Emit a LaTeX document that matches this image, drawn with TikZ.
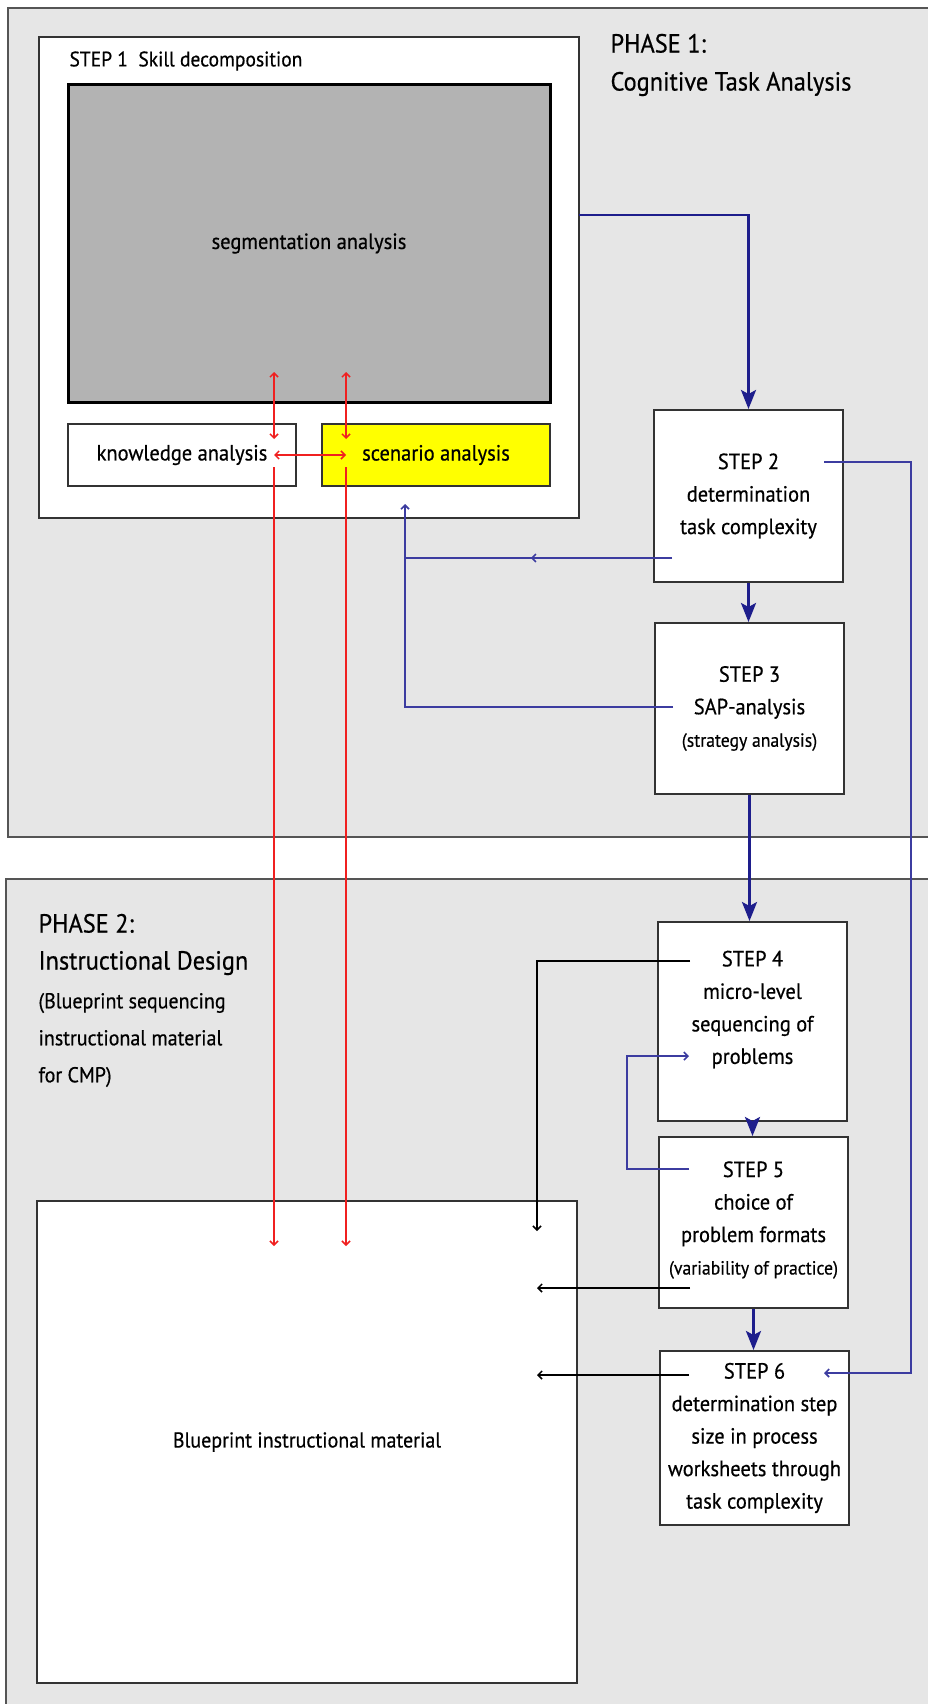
\documentclass[tikz,border=0pt]{standalone}
\usepackage{fontspec}
\setmainfont[FakeStretch=0.93,FakeBold=0.5]{PT Sans}
\usetikzlibrary{arrows.meta,decorations.markings}
\definecolor{panelgray}{HTML}{E6E6E6}
\definecolor{panelline}{HTML}{555555}
\definecolor{boxline}{HTML}{333333}
\definecolor{seggray}{HTML}{B3B3B3}
\definecolor{navy}{HTML}{1E1E8C}
\definecolor{thinblue}{HTML}{3C3CA0}
\definecolor{redline}{HTML}{F02020}
\definecolor{yellowfill}{HTML}{FFFF00}
\tikzset{
  panel/.style={draw=panelline, line width=2pt, fill=panelgray},
  box/.style={draw=boxline, line width=2pt, fill=white, inner sep=0pt},
  stepbox/.style={box, minimum width=189pt},
  steptext/.style={align=center, font=\fontsize{22}{32.5}\selectfont},
  barb/.tip={Straight Barb[length=4pt,width=8pt]},
  thickarrow/.style={draw=navy, line width=2.7pt, -{Stealth[length=19pt,width=15pt,inset=4pt]}},
  thinblueline/.style={draw=thinblue, line width=1.6pt},
  blackline/.style={draw=black, line width=1.5pt},
  redarrow/.style={draw=redline, line width=1.5pt},
}
\begin{document}
\begin{tikzpicture}[x=1pt,y=-1pt]
\useasboundingbox (0,0) rectangle (928,1704);
\clip (0,0) rectangle (928,1704);
\fill[white] (0,0) rectangle (928,1704);
% panels
\draw[panel] (8,8) rectangle (960,837);
\draw[panel] (6,879) rectangle (960,1730);
% phase texts
\node[anchor=west, align=left, font=\fontsize{26.2}{38}\selectfont] (ph1) at (607,65) {PHASE 1:\\Cognitive Task Analysis};
\node[anchor=west, align=left, font=\fontsize{26.2}{37}\selectfont] (ph2a) at (35,944.5) {PHASE 2:\\Instructional Design};
\node[anchor=west, align=left, font=\fontsize{21.5}{37}\selectfont] (ph2b) at (35,1040) {(Blueprint sequencing\\instructional material\\for CMP)};
% step 1
\node[box, minimum width=540.5pt, minimum height=480.5pt] (step1) at (308.75,277.75) {};
\node[anchor=west, font=\fontsize{21}{26}\selectfont] (step1t) at (66,61) {STEP 1\ \ Skill decomposition};
\node[box, draw=black, line width=3pt, fill=seggray, minimum width=482pt, minimum height=317pt, font=\fontsize{22}{26}\selectfont] (seg) at (309,243.5) {segmentation analysis};
\node[box, minimum width=228pt, minimum height=62pt, font=\fontsize{22}{26}\selectfont] (know) at (182,455) {knowledge analysis\hspace{8pt}};
\node[box, fill=yellowfill, minimum width=228pt, minimum height=62pt, font=\fontsize{22}{26}\selectfont] (scen) at (436,455) {scenario analysis};
% step boxes
\node[stepbox, minimum height=172pt] (step2) at (748.5,496) {};
\node[steptext] (s2t) at (748.5,496) {STEP 2\\determination\\task complexity};
\node[stepbox, minimum height=171pt] (step3) at (749.5,708.5) {};
\node[steptext] (s3t) at (749.5,708.5) {STEP 3\\SAP-analysis\\{\fontsize{19}{32.5}\selectfont (strategy analysis)}};
\node[stepbox, minimum height=199pt] (step4) at (752.5,1021.5) {};
\node[steptext] (s4t) at (752.5,1009.5) {STEP 4\\micro-level\\sequencing of\\problems};
\node[stepbox, minimum height=171pt] (step5) at (753.5,1222.5) {};
\node[steptext] (s5t) at (753.5,1220) {STEP 5\\choice of\\problem formats\\{\fontsize{19}{32.5}\selectfont (variability of practice)}};
\node[stepbox, minimum height=174pt] (step6) at (754.5,1438) {};
\node[steptext] (s6t) at (754.5,1438) {STEP 6\\determination step\\size in process\\worksheets through\\task complexity};
% blueprint
\node[box, minimum width=540pt, minimum height=482pt, font=\fontsize{21.5}{26}\selectfont] (blue) at (307,1442) {Blueprint instructional material};
% coordinates
\coordinate (c12) at (579,215);
\coordinate (s2r) at (824,462);
\coordinate (s6r) at (824,1373);
\coordinate (s2l) at (672,558);
\coordinate (s3l) at (673,707);
\coordinate (jn) at (405,558);
\coordinate (up1) at (405,504);
\coordinate (s4l) at (690,961);
\coordinate (t4) at (537,1231);
\coordinate (s5l) at (690,1288);
\coordinate (t5) at (537,1288);
\coordinate (s6l) at (689,1375);
\coordinate (t6) at (537,1375);
\coordinate (s5b) at (689,1169);
\coordinate (s4b) at (689,1056);
\coordinate (ra1) at (274,372);
\coordinate (ra2) at (274,439);
\coordinate (rb1) at (346,372);
\coordinate (rb2) at (346,439);
\coordinate (rh1) at (274,455);
\coordinate (rh2) at (346,455);
\coordinate (rd1) at (274,467);
\coordinate (rd1e) at (274,1246);
\coordinate (rd2) at (346,467);
\coordinate (rd2e) at (346,1246);
% thick flow
\draw[thickarrow] (c12) -| (step2.north);
\draw[thickarrow] (step2.south) -- (step2.south |- step3.north);
\draw[thickarrow] (step3.south) -- (step3.south |- step4.north);
\draw[thickarrow] (step4.south) -- (step4.south |- step5.north);
\draw[thickarrow] (step5.south) -- (step5.south |- step6.north);
% thin blue
\draw[thinblueline, -barb] (s2r) -- ++(87,0) |- (s6r);
\draw[thinblueline] (s3l) -| (jn);
\draw[thinblueline, -barb, postaction={decorate}, decoration={markings, mark=at position 0.44 with {\arrow{barb}}}] (s2l) -- (jn) -- (up1);
\draw[thinblueline, -barb] (s5b) -- ++(-62,0) |- (s4b);
% black
\draw[blackline, -barb] (s4l) -| (t4);
\draw[blackline, -barb] (s5l) -- (t5);
\draw[blackline, -barb] (s6l) -- (t6);
% red
\draw[redarrow, barb-barb] (ra1) -- (ra2);
\draw[redarrow, barb-barb] (rb1) -- (rb2);
\draw[redarrow, barb-barb] (rh1) -- (rh2);
\draw[redarrow, -barb] (rd1) -- (rd1e);
\draw[redarrow, -barb] (rd2) -- (rd2e);
\end{tikzpicture}
\end{document}
